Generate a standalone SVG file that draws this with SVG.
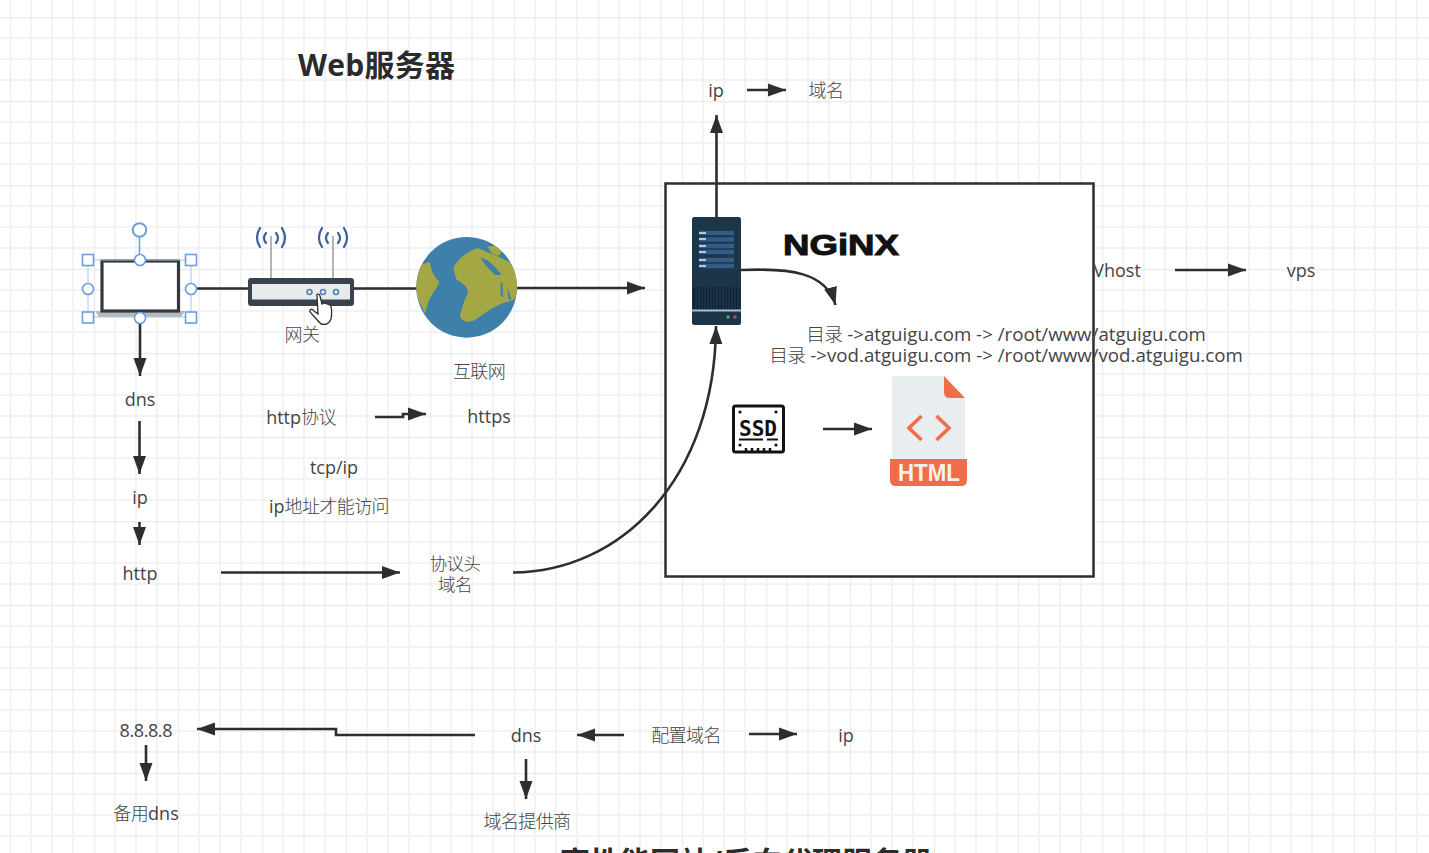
<svg xmlns="http://www.w3.org/2000/svg" width="1429" height="853" viewBox="0 0 1429 853">
<style>
text{font-family:"Open Sans","Noto Sans","Noto Sans CJK SC",sans-serif;font-size:18px;fill:#444;text-anchor:middle}
.cn{font-family:"Noto Sans CJK SC","Noto Sans",sans-serif;font-weight:300;letter-spacing:-.6px}
.b{font-family:"Open Sans","Noto Sans CJK SC",sans-serif;font-size:30px;font-weight:700;fill:#2b2b2b;text-anchor:start}
.l{font-size:18.7px}
.c{fill:none;stroke:#2e2e2e;stroke-width:2.6}
.a{marker-end:url(#ah)}
.h{fill:#fff;stroke:#6b9fe0;stroke-width:1.6}
.w{fill:none;stroke:#3d5f9c;stroke-width:2.2;stroke-linecap:round}
</style>
<defs>
<pattern id="g" width="84" height="84" patternUnits="userSpaceOnUse" x="10" y="17">
<path d="M21 0V84M42 0V84M63 0V84M0 21H84M0 42H84M0 63H84" stroke="#f3f3f3" stroke-width="2" fill="none"/>
<path d="M0 0V84M0 0H84" stroke="#ebebeb" stroke-width="2.400" fill="none"/>
</pattern>
<marker id="ah" markerUnits="userSpaceOnUse" markerWidth="20" markerHeight="14" refX="18" refY="7" orient="auto">
<path d="M0 .5L18 7L0 13.500z" fill="#2e2e2e"/>
</marker>
<clipPath id="gc"><circle cx="200" cy="187" r="151"/></clipPath>
</defs>
<rect width="1429" height="853" fill="#fff"/>
<rect width="1429" height="853" fill="url(#g)"/>

<g id="title"><text class="b" x="298" y="76" textLength="157">Web服务器</text></g>

<g id="web-box"><rect x="665.500" y="183.500" width="428" height="393" fill="#fff" stroke="#2e2e2e" stroke-width="2.500"/></g>

<g id="connectors">
<path class="c" d="M196 288.500H248M354 288.500H417"/>
<path class="c a" d="M517 288H645"/>
<path class="c a" d="M140 318V376"/>
<path class="c a" d="M139.500 421V474"/>
<path class="c a" d="M139.500 522V545"/>
<path class="c a" d="M221 572.500H400"/>
<path class="c a" d="M375 417H403V414H426"/>
<path class="c a" d="M716.500 217V115"/>
<path class="c a" d="M747 90H786"/>
<path class="c a" d="M741 270C790 268 826 272 835.500 305"/>
<path class="c a" d="M513 572.500C620 572 715 480 716 326"/>
<path class="c a" d="M823 429H872"/>
<path class="c a" d="M1175 270H1246"/>
<path class="c a" d="M475 735H336V729H197"/>
<path class="c a" d="M146 745V781"/>
<path class="c a" d="M624 735H577"/>
<path class="c a" d="M749 734H797"/>
<path class="c a" d="M526 759V799"/>
</g>

<g id="laptop">
<path d="M95 311H185L181 317H99z" fill="#b8b8b8"/>
<rect x="102" y="261" width="76.500" height="50" fill="#fff" stroke="#33383f" stroke-width="3.200"/>
<path d="M88 260H191V317H88z" fill="none" stroke="#a9c6ec" stroke-width="1"/>
<path d="M139.500 237V260" stroke="#6b9fe0" stroke-width="1.600"/>
<circle class="h" cx="139.500" cy="230" r="6.800" style="stroke-width:2"/>
<rect class="h" x="82.500" y="254.500" width="11" height="11"/><rect class="h" x="185.500" y="254.500" width="11" height="11"/>
<rect class="h" x="82.500" y="312" width="11" height="11"/><rect class="h" x="185.500" y="312" width="11" height="11"/>
<circle class="h" cx="88" cy="289" r="5.500"/><circle class="h" cx="191" cy="289" r="5.500"/>
<circle class="h" cx="140" cy="260" r="5.500"/><circle class="h" cx="140" cy="318" r="5.500"/>
</g>

<g id="router">
<path d="M271 236V279M333 236V279" stroke="#b4b4b4" stroke-width="2"/>
<path class="w" d="M266 233Q262 238 266 243M260 228Q254 238 260 247M276 233Q280 238 276 243M282 228Q288 238 282 247"/>
<path class="w" d="M328 233Q324 238 328 243M322 228Q316 238 322 247M338 233Q342 238 338 243M344 228Q350 238 344 247"/>
<rect x="248" y="278" width="106" height="28" rx="3" fill="#3a424c"/>
<rect x="252" y="284" width="98" height="15.500" fill="#e8eaec"/>
<g fill="none" stroke="#4f7fb5" stroke-width="1.500"><circle cx="309.500" cy="292" r="2.500"/><circle cx="323" cy="292" r="2.500"/><circle cx="336" cy="292" r="2.500"/></g>
<path d="M317 296C316 294 319 293 320 296L322 304L324 303L327 304L330 305C332 307 332 315 331 319C329 325 322 326 319 322L310 312C309 309 312 308 314 311L318 314z" fill="#fff" stroke="#2e2e2e" stroke-width="1.300"/>
<text class="cn" x="302" y="341">网关</text>
</g>

<g id="globe" transform="translate(400 225) scale(.3333)">
<circle cx="200" cy="187" r="151" fill="#3f80ab"/>
<g clip-path="url(#gc)" fill="#a3a844">
<path d="M48 125L88 110C95 125 92 145 118 170C112 190 95 205 85 230L75 265L55 225L35 180z"/>
<path d="M160 130C170 105 205 75 235 70C250 75 265 85 290 92L345 120L365 190L340 225C310 232 285 245 260 260L225 285C205 292 185 295 180 270L192 230L205 200C198 180 185 172 170 165z"/>
<path d="M262 65L290 62L305 82L295 93L275 85z"/>
<path d="M240 97L262 106L285 125L305 150L285 150L258 122z" fill="#3f80ab"/>
<path d="M302 172L302 212L310 216L307 172zM322 185L335 225L325 222z" fill="#3f80ab"/>
</g>
</g>

<g id="server">
<rect x="692" y="217" width="49" height="108" rx="2.500" fill="#1c3548"/>
<path d="M699 233H734M699 239.500H734M699 246H734M699 252H734M699 260H734M699 266H734" stroke="#2f5d86" stroke-width="4.500"/>
<path d="M699 233H706M699 239H706M699 246H706M699 252H706M699 260H706M699 266H706" stroke="#dfeaf2" stroke-width="1.500"/>
<rect x="693" y="287" width="47" height="22" fill="#0e2233"/>
<path d="M696 287V309M699 287V309M702 287V309M705 287V309M708 287V309M711 287V309M714 287V309M717 287V309M720 287V309M723 287V309M726 287V309M729 287V309M732 287V309M735 287V309M738 287V309" stroke="#24425a" stroke-width="1"/>
<rect x="692" y="309.500" width="49" height="2" fill="#a9c0d0"/>
<circle cx="728" cy="317" r="1.700" fill="#4ea97e"/><circle cx="735" cy="317" r="1.700" fill="#c2505a"/>
</g>

<g id="nginx"><text x="841" y="255" textLength="116" lengthAdjust="spacingAndGlyphs" style="font-family:'Liberation Sans',sans-serif;font-size:29px;font-weight:700;fill:#111;stroke:#111;stroke-width:1">NGiNX</text></g>

<g id="ssd">
<rect x="733.500" y="406" width="50" height="46" rx="2" fill="#fff" stroke="#111" stroke-width="3"/>
<text x="758" y="436" style="font-family:'DejaVu Sans Mono',monospace;font-size:22px;font-weight:700;fill:#111" textLength="38" lengthAdjust="spacingAndGlyphs">SSD</text>
<path d="M739 439.500H763M767 439.500H778" stroke="#111" stroke-width="2"/>
<path d="M746 448V452M752 448V452M758 448V452M764 448V452M770 448V452" stroke="#111" stroke-width="2.500"/>
<g fill="#111"><circle cx="740" cy="412" r="1.600"/><circle cx="776" cy="412" r="1.600"/><circle cx="740" cy="445" r="1.600"/><circle cx="776" cy="445" r="1.600"/></g>
</g>

<g id="html-file">
<path d="M895 376H944L965 398V462H892V379Q892 376 895 376z" fill="#e8eef0"/>
<path d="M944 376L965 398H950Q944 398 944 392z" fill="#ef6e47"/>
<path d="M890 459H967V480Q967 486 961 486H896Q890 486 890 480z" fill="#ef6e47"/>
<path d="M921.500 416L909 428L921.500 440M936.500 416L949 428L936.500 440" fill="none" stroke="#ef6e47" stroke-width="3.600"/>
<text x="929" y="481" textLength="62" lengthAdjust="spacingAndGlyphs" style="font-family:'Liberation Sans',sans-serif;font-size:24px;font-weight:700;fill:#f3f1ee">HTML</text>
</g>

<g id="labels">
<text x="716" y="97">ip</text>
<text class="cn" x="826" y="97">域名</text>
<text x="140" y="406">dns</text>
<text x="140" y="504">ip</text>
<text x="140" y="580">http</text>
<text class="cn" x="479" y="378">互联网</text>
<text x="301" y="424">http<tspan class="cn">协议</tspan></text>
<text x="489" y="423">https</text>
<text x="334" y="474">tcp/ip</text>
<text x="329" y="513">ip<tspan class="cn">地址才能访问</tspan></text>
<text class="cn" x="455" y="570" style="font-size:17.500px">协议头</text>
<text class="cn" x="455" y="591" style="font-size:17.500px">域名</text>
<text class="l" x="1006" y="341"><tspan class="cn">目录</tspan> -&gt;atguigu.com -&gt; /root/www/atguigu.com</text>
<text class="l" x="1006" y="362"><tspan class="cn">目录</tspan> -&gt;vod.atguigu.com -&gt; /root/www/vod.atguigu.com</text>
<text x="1117" y="277">Vhost</text>
<text x="1301" y="277">vps</text>
<text x="146" y="737" textLength="53">8.8.8.8</text>
<text x="146" y="820"><tspan class="cn">备用</tspan>dns</text>
<text x="526" y="742">dns</text>
<text class="cn" x="686" y="742">配置域名</text>
<text x="846" y="742">ip</text>
<text class="cn" x="527" y="828">域名提供商</text>
<text class="b" x="560" y="873" textLength="372">高性能网站/反向代理服务器</text>
</g>
</svg>
